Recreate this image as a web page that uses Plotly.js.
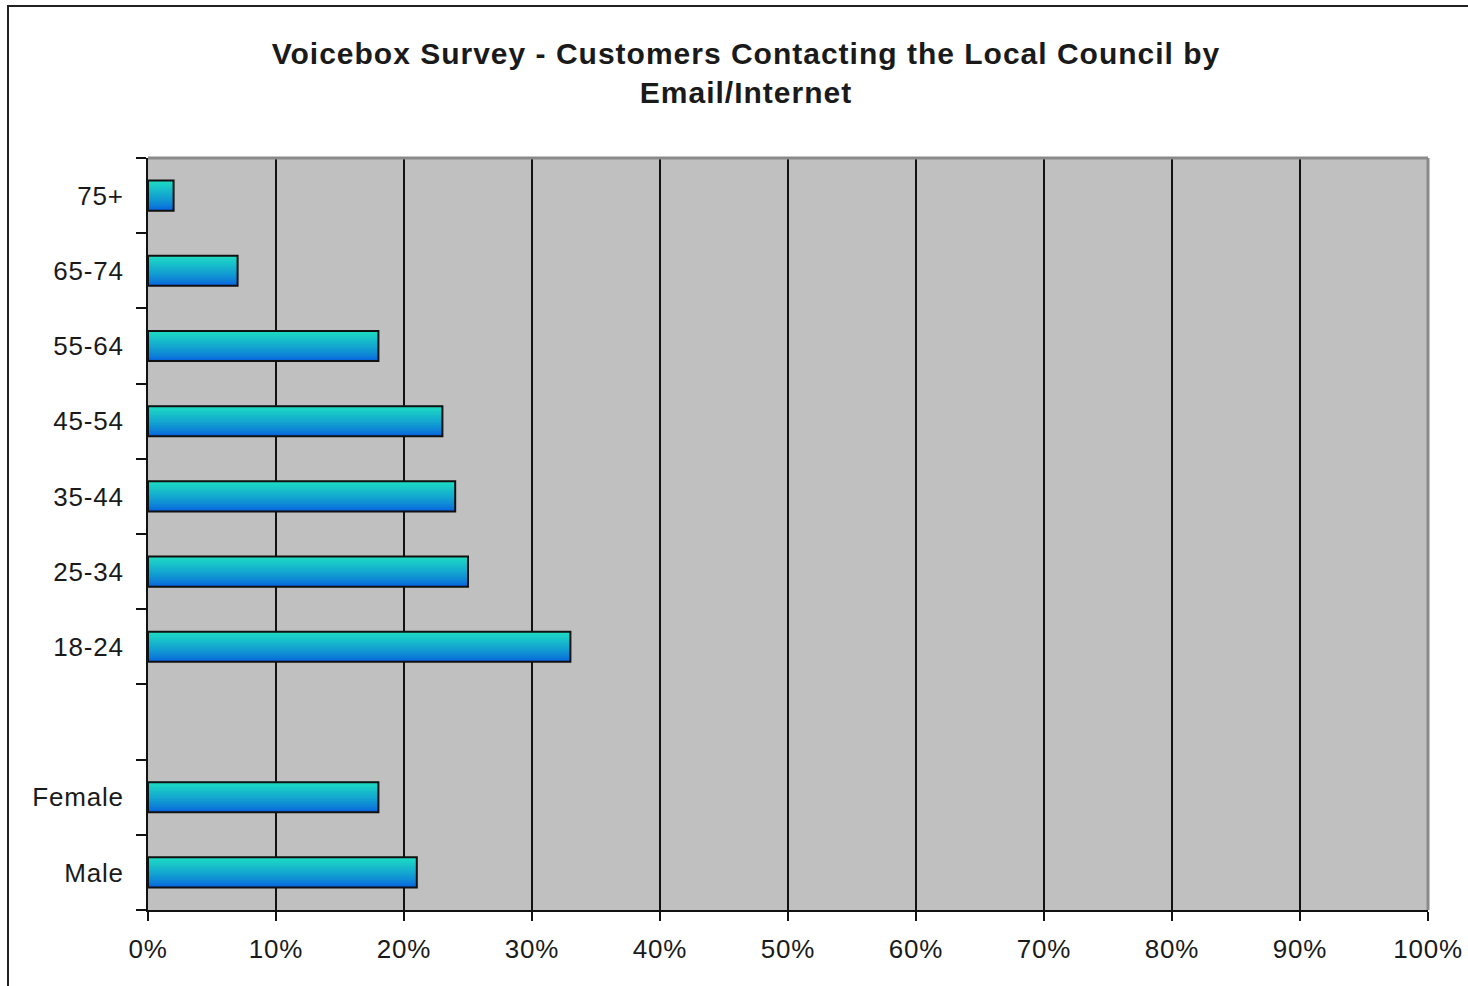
<!DOCTYPE html>
<html>
<head>
<meta charset="utf-8">
<script src="https://cdn.plot.ly/plotly-3.0.1.min.js"></script>
<style>
html,body{margin:0;padding:0;background:#fff;}
#chart{width:1468px;height:986px;}
#chart .gtitle{letter-spacing:1px;}
#chart .xtick text, #chart .ytick text{letter-spacing:0.8px;}
</style>
</head>
<body>
<div id="chart"></div>
<script>
// Categories listed bottom to top (blank slot separates gender from age groups)
const categories = ['Male', 'Female', ' ', '18-24', '25-34', '35-44', '45-54', '55-64', '65-74', '75+'];
const values = [21, 18, null, 33, 25, 24, 23, 18, 7, 2];
const xTickVals = [0, 10, 20, 30, 40, 50, 60, 70, 80, 90, 100];
const xTickText = ['0%', '10%', '20%', '30%', '40%', '50%', '60%', '70%', '80%', '90%', '100%'];
const titleText = 'Voicebox Survey - Customers Contacting the Local Council by<br>Email/Internet';

// gradient simulation: thin overlaid slices
const N = 16, barW = 0.4;
const bottomC = [8, 100, 222], topC = [28, 218, 196];
function mix(t) {
  const c = bottomC.map((b, k) => Math.round(b + (topC[k] - b) * t));
  return 'rgb(' + c.join(',') + ')';
}
const traces = [];
for (let i = 0; i < N; i++) {
  const w = barW / N;
  const last = i === N - 1;
  traces.push({
    type: 'bar', orientation: 'h', y: categories, x: values,
    width: last ? w : w * 2.2, offset: -barW / 2 + i * w,
    marker: { color: mix(Math.pow(i / (N - 1), 0.8)), line: { width: 0 } },
    hoverinfo: 'skip', showlegend: false
  });
}
traces.push({
  type: 'bar', orientation: 'h', y: categories, x: values,
  width: barW, offset: -barW / 2,
  marker: { color: 'rgba(0,0,0,0)', line: { color: '#111', width: 2 } },
  hoverinfo: 'skip', showlegend: false
});

const L = 148, R = 1428, T = 158, B = 910, W = 1468, H = 986;
const px = v => (v - L) / (R - L);
const py = v => (B - v) / (B - T);

const layout = {
  width: W, height: H,
  margin: { l: L, r: W - R, t: T, b: H - B, pad: 0 },
  paper_bgcolor: '#ffffff', plot_bgcolor: '#c0c0c0',
  barmode: 'overlay',
  font: { family: 'Liberation Sans, Arial, sans-serif', color: '#1a1a1a', size: 26 },
  title: {
    text: titleText, xref: 'container', x: 746 / W, xanchor: 'center', y: 1 - 64 / H, yanchor: 'middle',
    font: { family: 'Liberation Sans, Arial, sans-serif', size: 30, color: '#1a1a1a', weight: 'bold' }
  },
  xaxis: {
    range: [0, 100], tickvals: xTickVals, ticktext: xTickText,
    ticks: 'outside', ticklen: 9, tickwidth: 2, tickcolor: '#111',
    showline: true, linecolor: '#111', linewidth: 2, ticklabelstandoff: 6,
    showgrid: true, gridcolor: '#111', gridwidth: 2, zeroline: false,
    tickfont: { size: 26, color: '#1a1a1a' }, fixedrange: true
  },
  yaxis: {
    type: 'category', categoryorder: 'array', categoryarray: categories,
    tickson: 'boundaries', ticks: 'outside', ticklen: 10, tickwidth: 2, tickcolor: '#111',
    showline: true, linecolor: '#111', linewidth: 2, showgrid: false, zeroline: false,
    ticklabelstandoff: 17,
    tickfont: { size: 26, color: '#1a1a1a' }, fixedrange: true
  },
  shapes: [
    { type: 'line', xref: 'paper', yref: 'paper', x0: 0, x1: 1, y0: 1, y1: 1, line: { color: '#8a8a8a', width: 3 }, layer: 'above' },
    { type: 'line', xref: 'paper', yref: 'paper', x0: 1, x1: 1, y0: 0, y1: 1, line: { color: '#8a8a8a', width: 3 }, layer: 'above' },
    { type: 'rect', xref: 'paper', yref: 'paper', x0: px(8), x1: px(1490), y0: py(6), y1: py(1010), line: { color: '#222', width: 2 }, fillcolor: 'rgba(0,0,0,0)', layer: 'above' }
  ]
};

Plotly.newPlot('chart', traces, layout, { displayModeBar: false, staticPlot: true });
</script>
</body>
</html>
